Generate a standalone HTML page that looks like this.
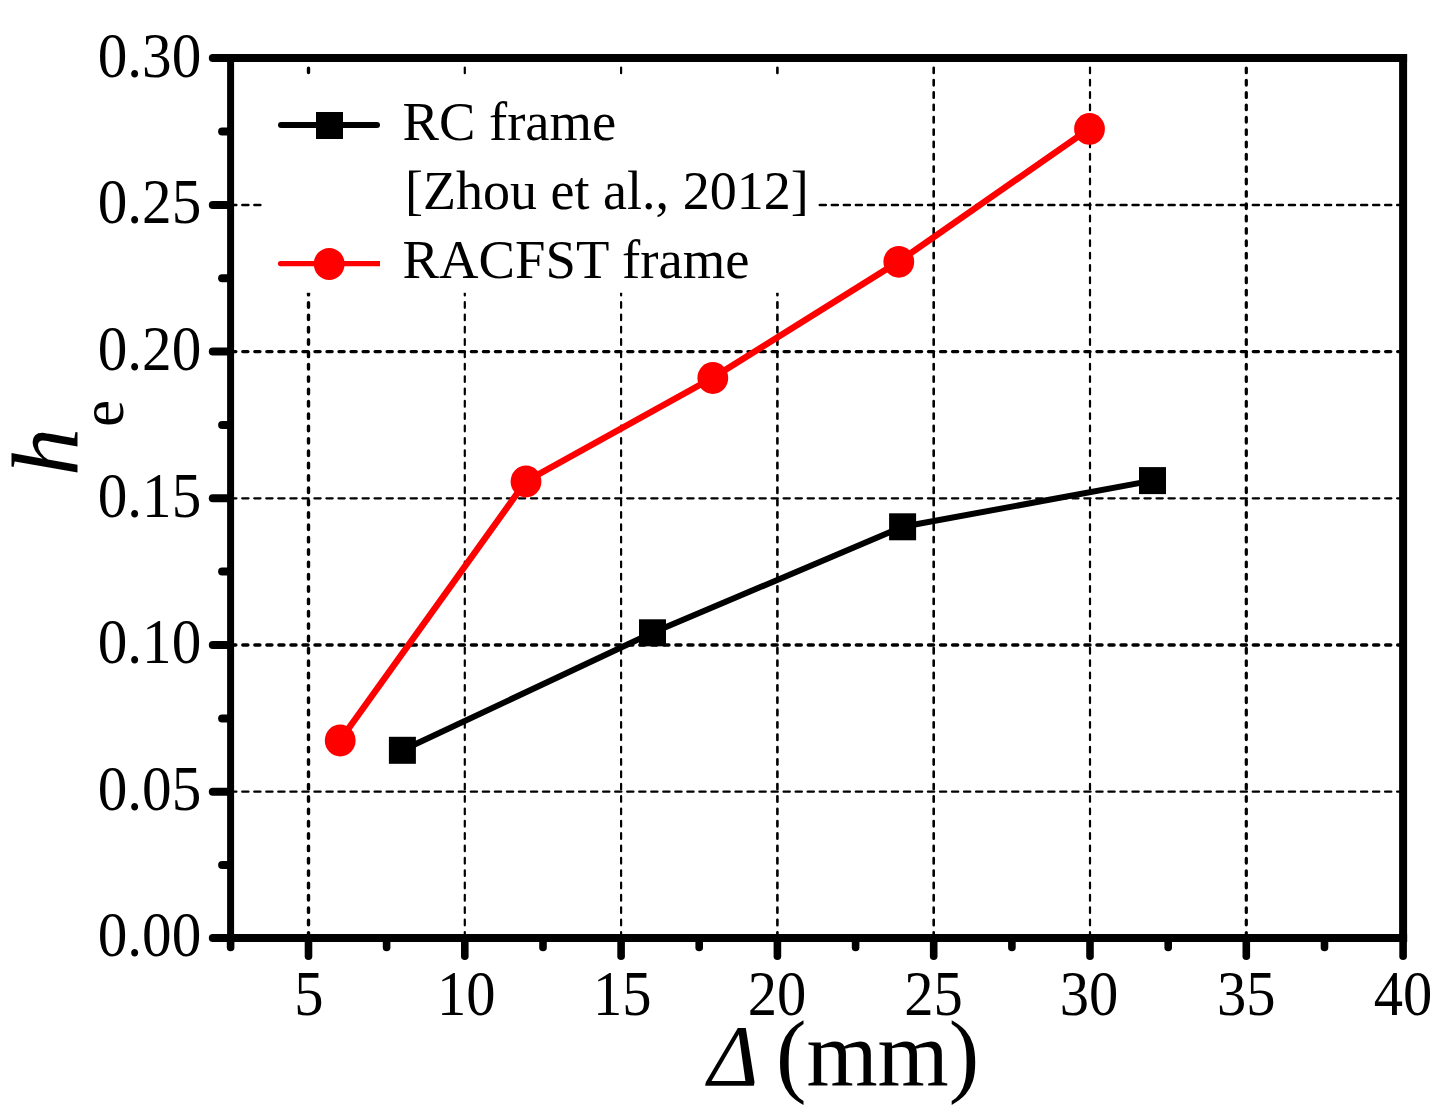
<!DOCTYPE html>
<html lang="en"><head><meta charset="utf-8"><title>Chart</title>
<style>html,body{margin:0;padding:0;background:#fff}svg{display:block}</style></head>
<body>
<svg width="1450" height="1119" viewBox="0 0 1450 1119">
<rect width="1450" height="1119" fill="#fff"/>
<g stroke="#000" stroke-linecap="round" fill="none">
<line x1="308.5" y1="68.10" x2="308.5" y2="936" stroke-width="3.4" stroke-dasharray="4.50 7.85"/>
<line x1="464.8" y1="67.50" x2="464.8" y2="936" stroke-width="2.2" stroke-dasharray="5.70 6.65"/>
<line x1="621.1" y1="67.50" x2="621.1" y2="936" stroke-width="2.2" stroke-dasharray="5.70 6.65"/>
<line x1="777.4" y1="67.70" x2="777.4" y2="936" stroke-width="2.6" stroke-dasharray="5.30 7.05"/>
<line x1="933.7" y1="67.70" x2="933.7" y2="936" stroke-width="2.6" stroke-dasharray="5.30 7.05"/>
<line x1="1090.0" y1="67.50" x2="1090.0" y2="936" stroke-width="2.2" stroke-dasharray="5.70 6.65"/>
<line x1="1246.3" y1="68.00" x2="1246.3" y2="936" stroke-width="3.2" stroke-dasharray="4.70 7.65"/>
<line x1="230.32" y1="204.9" x2="1401.1" y2="204.9" stroke-width="2.5" stroke-dasharray="6.00 6.03"/>
<line x1="230.77" y1="351.6" x2="1401.1" y2="351.6" stroke-width="3.4" stroke-dasharray="5.10 6.93"/>
<line x1="230.17" y1="498.3" x2="1401.1" y2="498.3" stroke-width="2.2" stroke-dasharray="6.30 5.73"/>
<line x1="230.87" y1="645.0" x2="1401.1" y2="645.0" stroke-width="3.6" stroke-dasharray="4.90 7.13"/>
<line x1="230.22" y1="791.7" x2="1401.1" y2="791.7" stroke-width="2.3" stroke-dasharray="6.20 5.83"/>
</g>
<rect x="263" y="76" width="554" height="216.8" fill="#fff"/>
<g stroke="#000" fill="none">
<line x1="230.6" y1="54" x2="230.6" y2="942" stroke-width="7"/>
<line x1="1403.1" y1="54" x2="1403.1" y2="942" stroke-width="8"/>
<line x1="227.1" y1="58" x2="1407.1" y2="58" stroke-width="8"/>
<line x1="227.1" y1="938" x2="1407.1" y2="938" stroke-width="8"/>
</g>
<g stroke="#000" stroke-width="8" stroke-linecap="round">
<line x1="212.8" y1="58.0" x2="228" y2="58.0"/>
<line x1="222.1" y1="131.6" x2="228" y2="131.6"/>
<line x1="212.8" y1="204.9" x2="228" y2="204.9"/>
<line x1="222.1" y1="278.2" x2="228" y2="278.2"/>
<line x1="212.8" y1="351.6" x2="228" y2="351.6"/>
<line x1="222.1" y1="424.9" x2="228" y2="424.9"/>
<line x1="212.8" y1="498.3" x2="228" y2="498.3"/>
<line x1="222.1" y1="571.6" x2="228" y2="571.6"/>
<line x1="212.8" y1="645.0" x2="228" y2="645.0"/>
<line x1="222.1" y1="718.4" x2="228" y2="718.4"/>
<line x1="212.8" y1="791.7" x2="228" y2="791.7"/>
<line x1="222.1" y1="865.0" x2="228" y2="865.0"/>
<line x1="212.8" y1="938.0" x2="228" y2="938.0"/>
</g>
<g stroke="#000" stroke-width="7.6" stroke-linecap="round">
<line x1="230.6" y1="938" x2="230.6" y2="947.5"/>
<line x1="308.5" y1="938" x2="308.5" y2="956.3"/>
<line x1="386.6" y1="938" x2="386.6" y2="947.5"/>
<line x1="464.8" y1="938" x2="464.8" y2="956.3"/>
<line x1="543.0" y1="938" x2="543.0" y2="947.5"/>
<line x1="621.1" y1="938" x2="621.1" y2="956.3"/>
<line x1="699.2" y1="938" x2="699.2" y2="947.5"/>
<line x1="777.4" y1="938" x2="777.4" y2="956.3"/>
<line x1="855.6" y1="938" x2="855.6" y2="947.5"/>
<line x1="933.7" y1="938" x2="933.7" y2="956.3"/>
<line x1="1011.9" y1="938" x2="1011.9" y2="947.5"/>
<line x1="1090.0" y1="938" x2="1090.0" y2="956.3"/>
<line x1="1168.2" y1="938" x2="1168.2" y2="947.5"/>
<line x1="1246.3" y1="938" x2="1246.3" y2="956.3"/>
<line x1="1324.5" y1="938" x2="1324.5" y2="947.5"/>
<line x1="1403.1" y1="938" x2="1403.1" y2="956.3"/>
</g>
<polyline fill="none" stroke="#000" stroke-width="6" stroke-linejoin="round" points="402.4,750.3 652.5,632.8 902.6,526.8 1152.5,480.6"/>
<rect x="388.9" y="736.8" width="27" height="27" fill="#000"/>
<rect x="639.0" y="619.3" width="27" height="27" fill="#000"/>
<rect x="889.1" y="513.3" width="27" height="27" fill="#000"/>
<rect x="1139.0" y="467.1" width="27" height="27" fill="#000"/>
<polyline fill="none" stroke="#f00" stroke-width="6.4" stroke-linejoin="round" points="340.2,740.2 526,481.2 712.8,377.7 898.8,261.5 1089.5,128.6"/>
<ellipse cx="340.2" cy="740.5" rx="15.4" ry="15.9" fill="#f00"/>
<ellipse cx="526" cy="481.5" rx="15.4" ry="15.9" fill="#f00"/>
<ellipse cx="712.8" cy="378.0" rx="15.4" ry="15.9" fill="#f00"/>
<ellipse cx="898.8" cy="261.8" rx="15.4" ry="15.9" fill="#f00"/>
<ellipse cx="1089.5" cy="128.9" rx="15.4" ry="15.9" fill="#f00"/>
<line x1="281" y1="125" x2="377" y2="125" stroke="#000" stroke-width="6" stroke-linecap="round"/>
<rect x="316" y="112" width="27" height="27" fill="#000"/>
<path d="M280.6,263.6 H380" stroke="#f00" stroke-width="5.4" fill="none"/>
<circle cx="280.6" cy="263.6" r="2.7" fill="#f00"/>
<ellipse cx="329.2" cy="263.9" rx="15.4" ry="16" fill="#f00"/>
<g font-family="'Liberation Serif', serif" fill="#000">
<text transform="translate(402.50,140.00) scale(0.993,1)" font-size="55" text-anchor="start">RC frame</text>
<text transform="translate(405.00,209.00) scale(0.983,1)" font-size="55" text-anchor="start">[Zhou et al., 2012]</text>
<text transform="translate(402.50,277.80) scale(0.995,1)" font-size="55" text-anchor="start">RACFST frame</text>
<text transform="translate(201.30,76.90) scale(0.92,1)" font-size="64.4" text-anchor="end">0.30</text>
<text transform="translate(201.30,223.45) scale(0.92,1)" font-size="64.4" text-anchor="end">0.25</text>
<text transform="translate(201.30,370.00) scale(0.92,1)" font-size="64.4" text-anchor="end">0.20</text>
<text transform="translate(201.30,516.55) scale(0.92,1)" font-size="64.4" text-anchor="end">0.15</text>
<text transform="translate(201.30,663.10) scale(0.92,1)" font-size="64.4" text-anchor="end">0.10</text>
<text transform="translate(201.30,809.65) scale(0.92,1)" font-size="64.4" text-anchor="end">0.05</text>
<text transform="translate(201.30,956.20) scale(0.92,1)" font-size="64.4" text-anchor="end">0.00</text>
<text transform="translate(308.80,1014.80) scale(0.915,1)" font-size="64" text-anchor="middle">5</text>
<text transform="translate(466.30,1014.80) scale(0.915,1)" font-size="64" text-anchor="middle">10</text>
<text transform="translate(622.30,1014.80) scale(0.915,1)" font-size="64" text-anchor="middle">15</text>
<text transform="translate(777.10,1014.80) scale(0.915,1)" font-size="64" text-anchor="middle">20</text>
<text transform="translate(933.40,1014.80) scale(0.915,1)" font-size="64" text-anchor="middle">25</text>
<text transform="translate(1089.00,1014.80) scale(0.915,1)" font-size="64" text-anchor="middle">30</text>
<text transform="translate(1246.30,1014.80) scale(0.915,1)" font-size="64" text-anchor="middle">35</text>
<text transform="translate(1403.10,1014.80) scale(0.915,1)" font-size="64" text-anchor="middle">40</text>
<text transform="translate(708.00,1084.50) scale(1.0,1)" font-size="86" text-anchor="start" font-style="italic">Δ</text>
<text transform="translate(776.00,1085.00) scale(0.988,1)" font-size="92.6" text-anchor="start">(mm)</text>
<g transform="translate(78,476) rotate(-90)"><text font-size="96" font-style="italic" x="0" y="0">h</text><text font-size="61" x="49" y="45">e</text></g>
</g>
</svg>
</body></html>
